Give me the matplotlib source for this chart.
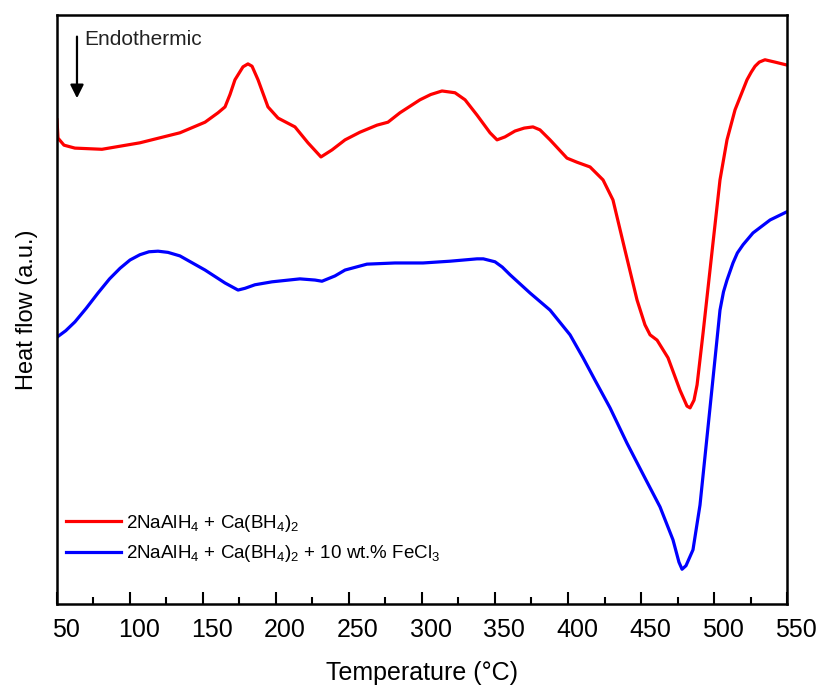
import matplotlib
matplotlib.use("Agg")
import matplotlib.pyplot as plt
import matplotlib.transforms as mtransforms
from matplotlib.ticker import MultipleLocator

plt.rcParams['font.family'] = ['Liberation Sans', 'DejaVu Sans']
plt.rcParams['mathtext.fontset'] = 'custom'
plt.rcParams['mathtext.rm'] = 'Liberation Sans'

# DSC curves (temperature in C, heat flow in a.u.)
temp_red = [50.0, 50.7, 54.8, 62.3, 80.8, 106.8, 134.2, 151.4, 160.3, 165.1,
            168.5, 171.9, 177.4, 180.8, 183.6, 187.7, 194.5, 201.4, 213.0, 221.9,
            230.8, 238.4, 247.3, 257.5, 269.2, 276.7, 284.9, 298.6, 306.0, 313.7,
            322.6, 329.5, 337.7, 346.6, 351.4, 356.8, 363.7, 370.0, 376.0, 380.8,
            387.7, 399.3, 406.2, 415.1, 424.0, 430.8, 439.0, 447.3, 452.7, 456.2,
            461.0, 468.5, 476.7, 481.5, 483.6, 486.3, 488.4, 492.5, 499.3, 504.1,
            508.9, 514.4, 522.6, 525.5, 528.1, 531.0, 534.9, 541.8, 550.0]
flow_red = [82.2, 79.1, 77.9, 77.4, 77.2, 78.3, 80.0, 81.8, 83.4, 84.4,
            86.5, 89.0, 91.2, 91.7, 91.3, 89.0, 84.4, 82.5, 81.0, 78.3,
            75.9, 77.1, 78.8, 80.1, 81.3, 81.8, 83.4, 85.6, 86.5, 87.1,
            86.8, 85.6, 83.0, 80.0, 78.8, 79.3, 80.3, 80.8, 81.0, 80.5,
            78.8, 75.7, 75.0, 74.2, 72.0, 68.6, 60.1, 51.6, 47.4, 45.7,
            44.8, 41.8, 36.3, 33.6, 33.3, 34.6, 37.2, 46.0, 61.3, 72.0,
            78.8, 83.9, 89.0, 90.3, 91.3, 92.0, 92.4, 92.0, 91.5]

temp_blue = [50.0, 56.0, 62.3, 70.0, 78.1, 86.0, 93.2, 100.0, 106.8, 113.0,
             119.2, 126.0, 134.2, 151.4, 165.1, 174.0, 178.8, 185.6, 197.3, 216.4,
             226.7, 231.5, 240.4, 247.3, 262.3, 281.5, 300.7, 319.2, 337.7, 342.0,
             345.2, 350.0, 355.0, 360.3, 374.0, 387.7, 401.4, 410.3, 418.5, 428.8,
             440.4, 452.7, 463.0, 471.9, 476.0, 478.1, 480.8, 485.6, 490.4, 497.3,
             504.1, 506.5, 508.9, 513.0, 516.0, 519.9, 526.7, 538.4, 550.0]
flow_blue = [45.3, 46.4, 47.9, 50.2, 52.8, 55.2, 57.0, 58.4, 59.3, 59.8,
             59.9, 59.7, 59.1, 56.7, 54.5, 53.3, 53.6, 54.2, 54.7, 55.2,
             55.0, 54.8, 55.7, 56.7, 57.7, 57.9, 57.9, 58.2, 58.6, 58.6,
             58.4, 58.1, 57.2, 55.9, 52.8, 49.9, 45.7, 41.8, 38.0, 33.3,
             27.3, 21.4, 16.5, 10.9, 7.1, 5.9, 6.5, 9.2, 16.8, 33.4,
             49.9, 53.0, 55.0, 57.9, 59.6, 61.0, 63.0, 65.2, 66.6]

label_red = r'2NaAlH$_4$ + Ca(BH$_4$)$_2$'
label_blue = r'2NaAlH$_4$ + Ca(BH$_4$)$_2$ + 10 wt.% FeCl$_3$'

fig = plt.figure(figsize=(8.21, 6.91), dpi=100)
ax = fig.add_axes([0.0694, 0.1259, 0.8892, 0.8524])

ax.plot(temp_red, flow_red, color='#ff0000', lw=2.3, label=label_red,
        solid_joinstyle='round')
ax.plot(temp_blue, flow_blue, color='#0000ff', lw=2.3, label=label_blue,
        solid_joinstyle='round')

ax.set_xlim(50, 550)
ax.set_ylim(0, 100)
ax.xaxis.set_major_locator(MultipleLocator(50))
ax.xaxis.set_minor_locator(MultipleLocator(25))
ax.set_yticks([])
ax.tick_params(axis='x', which='major', direction='in', length=9, width=1.5,
               labelsize=18, pad=10)
ax.tick_params(axis='x', which='minor', direction='in', length=5, width=1.5)
for s in ax.spines.values():
    s.set_linewidth(1.8)

# labels sit a bit right of their ticks in the original
offset = mtransforms.ScaledTranslation(0.09, 0, fig.dpi_scale_trans)
for lab in ax.get_xticklabels():
    lab.set_transform(lab.get_transform() + offset)

ax.set_xlabel('Temperature (°C)', fontsize=18, labelpad=14)
ax.set_ylabel('Heat flow (a.u.)', fontsize=17, labelpad=14)

# endothermic marker
ax.annotate('', xy=(63.7, 85.4), xytext=(63.7, 96.8),
            arrowprops=dict(arrowstyle='-|>', color='black', lw=1.6,
                            mutation_scale=20))
ax.text(69.0, 95.8, 'Endothermic', fontsize=15, va='center', ha='left',
        color='#222222')

ax.legend(loc='lower left', bbox_to_anchor=(-0.005, 0.045), frameon=False,
          fontsize=13.5, handlelength=2.9, handletextpad=0.25, labelspacing=0.5,
          borderaxespad=0.3)

plt.savefig('out.png', dpi=100)
